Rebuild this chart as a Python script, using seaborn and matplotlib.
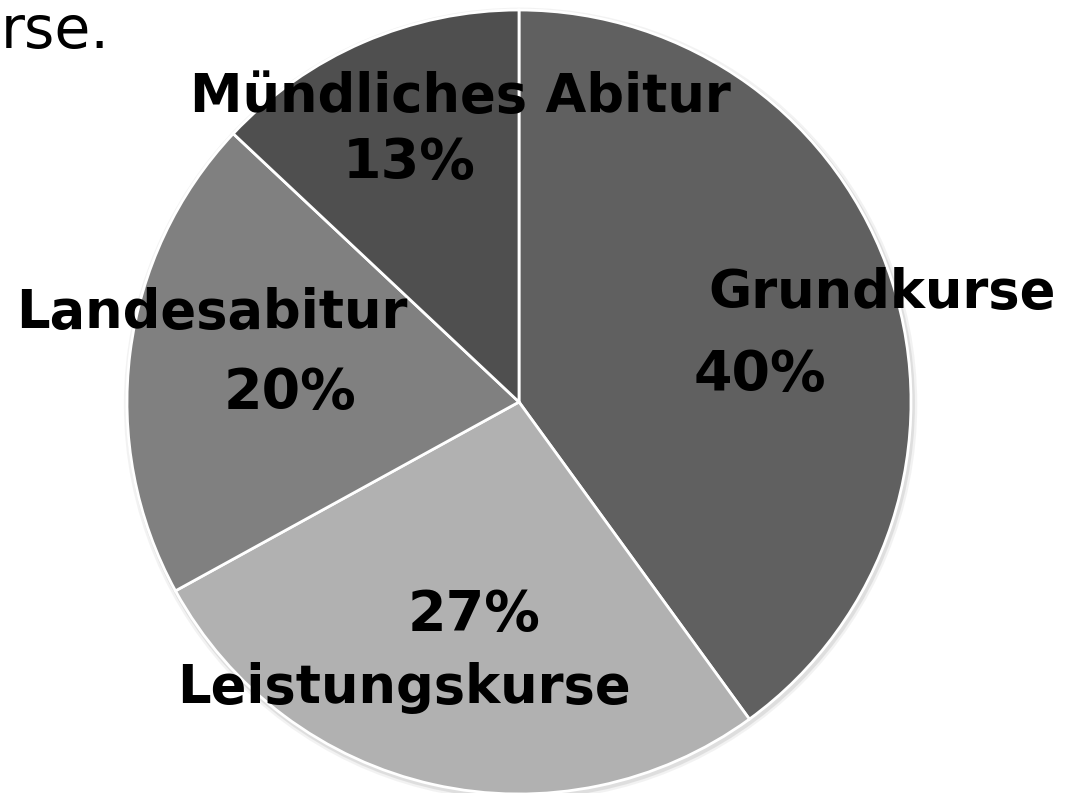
import matplotlib.pyplot as plt
import seaborn as sns
from matplotlib.patches import Circle

sns.set_theme(style="white")
plt.rcParams["font.family"] = ["DejaVu Sans"]

labels = ["Grundkurse", "Leistungskurse", "Landesabitur", "Mündliches Abitur"]
shares = [40, 27, 20, 13]
colors = ["#606060", "#b1b1b1", "#808080", "#4f4f4f"]

# label anchor points in pixels of the 1074x793 image: (name xy, percent xy)
label_px = {
    "Grundkurse": ((882, 293), (760, 375)),
    "Leistungskurse": ((404, 688), (474, 615)),
    "Landesabitur": ((212, 313), (290, 393)),
    "Mündliches Abitur": ((460, 97), (409, 163)),
}

CX, CY, R = 519, 402, 392  # pie centre and radius in pixels


def px(x, y):
    return (x - CX) / R, (CY - y) / R


fig = plt.figure(figsize=(10.74, 7.93), dpi=100)
ax = fig.add_axes([0, 0, 1, 1])

# soft shadow around the pie
for k, a in [(1.012, 0.10), (1.006, 0.18)]:
    ax.add_patch(Circle((0.004, -0.006), k, color="#888888", alpha=a, lw=0, zorder=0))

ax.pie(shares, colors=colors, startangle=90, counterclock=False, radius=1,
       wedgeprops=dict(edgecolor="white", linewidth=2))

for name, share in zip(labels, shares):
    (nx, ny), (sx, sy) = label_px[name]
    ax.text(*px(nx, ny), name, ha="center", va="center", fontsize=38,
            fontweight="bold", color="black", zorder=5)
    ax.text(*px(sx, sy), f"{share}%", ha="center", va="center", fontsize=40,
            fontweight="bold", color="black", zorder=5)

# tail of the slide title in the top-left corner
ax.text(*px(1, 48), "rse.", ha="left", va="baseline", fontsize=42, color="black")

ax.set_xlim(-CX / R, (1074 - CX) / R)
ax.set_ylim(-(793 - CY) / R, CY / R)
ax.set_aspect("equal")
ax.axis("off")

fig.savefig("out.png", dpi=100)
